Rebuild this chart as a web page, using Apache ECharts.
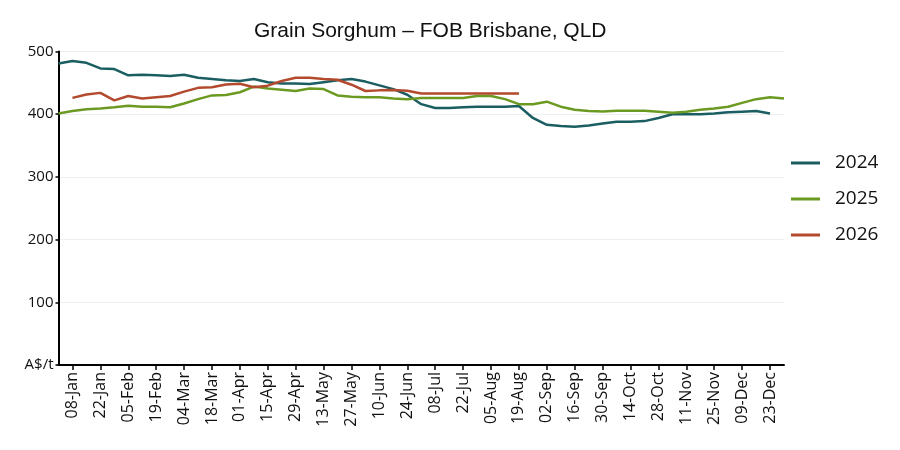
<!DOCTYPE html>
<html>
<head>
<meta charset="utf-8">
<script src="https://cdn.jsdelivr.net/npm/echarts@6/dist/echarts.min.js"></script>
<style>html,body{margin:0;padding:0;background:#fff;}#c{width:900px;height:450px;}</style>
</head>
<body>
<div id="c"></div>
<script>
const weeks = ['01-Jan','08-Jan','15-Jan','22-Jan','29-Jan','05-Feb','12-Feb','19-Feb','26-Feb','04-Mar','11-Mar','18-Mar','25-Mar','01-Apr','08-Apr','15-Apr','22-Apr','29-Apr','06-May','13-May','20-May','27-May','03-Jun','10-Jun','17-Jun','24-Jun','01-Jul','08-Jul','15-Jul','22-Jul','29-Jul','05-Aug','12-Aug','19-Aug','26-Aug','02-Sep','09-Sep','16-Sep','23-Sep','30-Sep','07-Oct','14-Oct','21-Oct','28-Oct','04-Nov','11-Nov','18-Nov','25-Nov','02-Dec','09-Dec','16-Dec','23-Dec','30-Dec'];

const s2024 = [481,485,482,473,472,462,463,462,461,463,458,456,454,453,456,451,449,449,448,451,454,456,452,446,440,431,416,410,410,411,412,412,412,413,394,383,381,380,382,385,388,388,389,394,400,400,400,401,403,404,405,401];

const s2025 = [401,405,408,409,411,413.5,412,412,411,417,424,430,430.5,435,444,441,439,437,441,440,430,428,427,427,425,424,426,426,426,426,429,429,424,416,416,420,412,407,405,404.5,405.5,405.5,405.5,404,402.5,404,407,409,412,418,424,427,425];

const s2026 = [null,426,431.5,434,422,429,425,427,429,436,442,443,447.5,448.5,443,445.5,453,458,458,456,455,447,437,438,438.5,437.5,433,433,433,433,433,433,433,433];

const seriesNames = ['2024','2025','2026'];
const seriesColors = ['#1b5e62','#6b9a22','#b34a2e'];
const yTicks = [0,100,200,300,400,500];

const chart = echarts.init(document.getElementById('c'));
const showOdd = (i) => i % 2 === 1;
const mk = (name, data, color) => ({
  name, type: 'line', data, symbol: 'none', showSymbol: false,
  lineStyle: { color, width: 2.5 }, itemStyle: { color },
  connectNulls: false
});
chart.setOption({
  animation: false,
  backgroundColor: '#fff',
  title: {
    text: 'Grain Sorghum \u2013 FOB Brisbane, QLD',
    left: 249, top: 16,
    textStyle: { fontFamily: 'Liberation Sans, Arial, sans-serif', fontSize: 21, fontWeight: 'normal', color: '#111' }
  },
  legend: {
    orient: 'vertical', left: 791, top: 153.5, padding: 0,
    icon: 'rect', itemWidth: 29, itemHeight: 3, itemGap: 17,
    data: seriesNames,
    textStyle: { fontFamily: 'Open Sans, sans-serif', fontSize: 19, color: '#111', padding: [0,0,0,10] }
  },
  grid: { left: 58.5, right: 116, top: 51.5, bottom: 85, containLabel: false },
  xAxis: {
    type: 'category', data: weeks, boundaryGap: false,
    axisLine: { lineStyle: { color: '#000', width: 2 } },
    axisTick: { interval: showOdd, length: 5, lineStyle: { color: '#000', width: 1.5 } },
    axisLabel: { interval: showOdd, rotate: 90, margin: 7, fontFamily: 'Open Sans, sans-serif', fontSize: 16, color: '#111' },
    splitLine: { show: false }
  },
  yAxis: {
    type: 'value', min: yTicks[0], max: yTicks[yTicks.length-1], interval: 100,
    axisLine: { show: true, lineStyle: { color: '#000', width: 2 } },
    axisTick: { show: true, length: 3, lineStyle: { color: '#000', width: 1.5 } },
    axisLabel: { margin: 5, fontFamily: 'Open Sans, sans-serif', fontSize: 15, color: '#111',
      formatter: (v) => v === 0 ? 'A$/t' : String(v) },
    splitLine: { show: true, lineStyle: { color: '#efefef', width: 1 } }
  },
  series: [
    mk(seriesNames[0], s2024, seriesColors[0]),
    mk(seriesNames[1], s2025, seriesColors[1]),
    mk(seriesNames[2], s2026, seriesColors[2])
  ]
});
</script>
</body>
</html>
